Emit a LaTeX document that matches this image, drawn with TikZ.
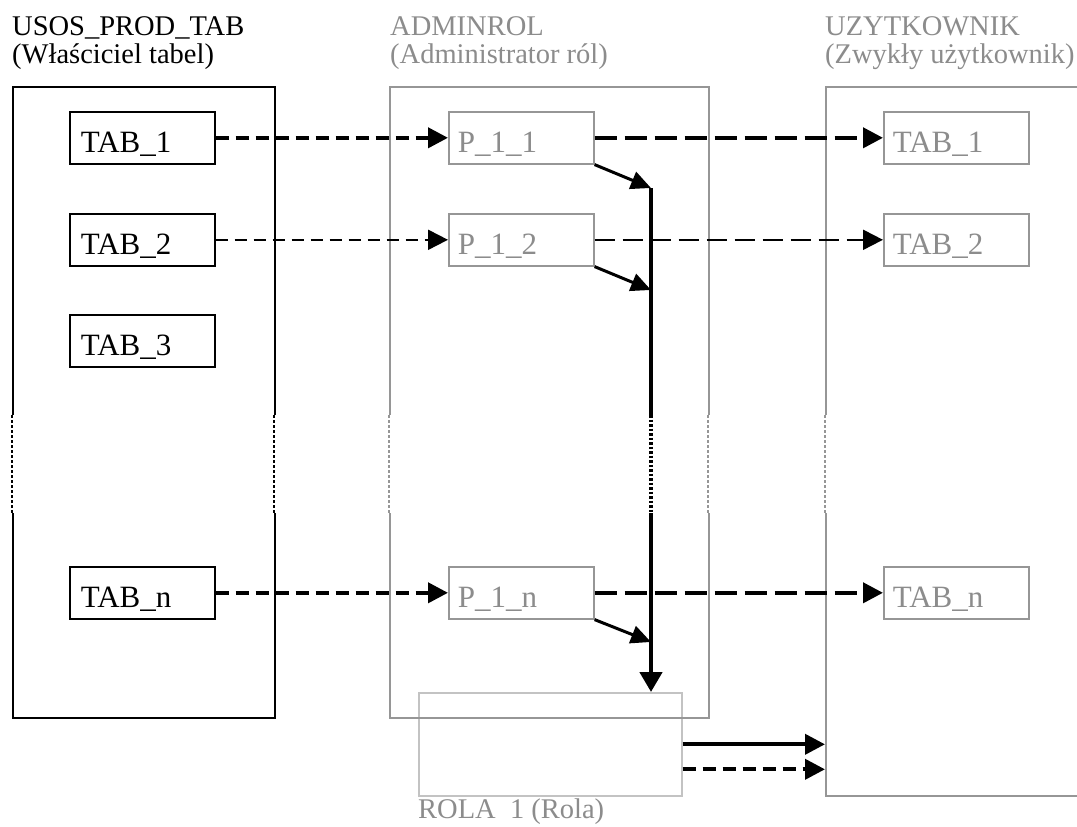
\documentclass[tikz,border=0pt]{standalone}
\usepackage{fontspec}
\setmainfont{Liberation Serif}
\usetikzlibrary{arrows.meta}
\definecolor{boxgray}{RGB}{150,150,150}
\definecolor{txtgray}{RGB}{140,140,140}
\definecolor{rolagray}{RGB}{195,195,195}
\begin{document}
\begin{tikzpicture}[x=1pt,y=-1pt,
  hdr/.style={inner sep=0pt, anchor=base west, font=\fontsize{28.5}{26}\selectfont},
  ghdr/.style={hdr, text=txtgray},
  container/.style={draw=black, line width=1.6pt, inner sep=0pt, anchor=north west},
  gcontainer/.style={container, draw=boxgray},
  tabbox/.style={draw=black, line width=1.6pt, minimum width=145pt, minimum height=52pt,
    inner xsep=11pt, inner ysep=0pt, text width=123pt, align=left,
    text height=30pt, text depth=0pt, anchor=north west, font=\fontsize{31}{31}\selectfont},
  graybox/.style={tabbox, draw=boxgray, text=txtgray, inner xsep=9pt, text width=127pt},
  tipA/.style={-{Triangle[length=20pt,width=20pt]}},
  thickdash/.style={tipA, line width=4pt, dash pattern=on 13pt off 7pt},
  thicklong/.style={tipA, line width=4pt, dash pattern=on 22pt off 8pt},
  thindash/.style={tipA, line width=2pt, dash pattern=on 12pt off 7pt},
  thinlong/.style={tipA, line width=2pt, dash pattern=on 20pt off 8pt},
  diag/.style={-{Triangle[length=20pt,width=18pt]}, line width=3pt},
  vert/.style={-{Triangle[length=20pt,width=22pt]}, line width=4.5pt},
  solidarr/.style={tipA, line width=4pt},
  dotline/.style={line width=2.4pt, dash pattern=on 3pt off 2pt},
]
\useasboundingbox (0,0) rectangle (1077,827);
\fill[white] (0,0) rectangle (1077,827);

% headers
\node[hdr] (h1a) at (12,35) {USOS\_PROD\_TAB};
\node[hdr] (h1b) at (12,63) {(Właściciel tabel)};
\node[ghdr] (h2a) at (390,35) {ADMINROL};
\node[ghdr] (h2b) at (390,63) {(Administrator ról)};
\node[ghdr] (h3a) at (825,35) {UZYTKOWNIK};
\node[ghdr] (h3b) at (825,63) {(Zwykły użytkownik)};

% containers
\node[container, minimum width=262pt, minimum height=631pt] (usos) at (12,86) {};
\node[draw=rolagray, line width=1.6pt, inner sep=0pt, anchor=north west,
      minimum width=263pt, minimum height=103pt] (rola) at (418,692) {};
\node[gcontainer, minimum width=319pt, minimum height=631pt] (admin) at (389,86) {};
\node[gcontainer, minimum width=300pt, minimum height=709pt] (uz) at (825,86) {};
\node[ghdr, text=txtgray] (rolalbl) at (418,818) {ROLA\ \ 1 (Rola)};

% left tables
\node[tabbox] (t1) at (69,111) {TAB\_1};
\node[tabbox] (t2) at (69,213) {TAB\_2};
\node[tabbox] (t3) at (69,314) {TAB\_3};
\node[tabbox] (tn) at (69,566) {TAB\_n};

% privileges
\node[graybox] (p1) at (448,111) {P\_1\_1};
\node[graybox] (p2) at (448,213) {P\_1\_2};
\node[graybox] (pn) at (448,566) {P\_1\_n};

% user tables
\node[graybox] (u1) at (883,111) {TAB\_1};
\node[graybox] (u2) at (883,213) {TAB\_2};
\node[graybox] (un) at (883,566) {TAB\_n};

% grant arrows
\draw[thickdash] (t1.east) -- (p1.west);
\draw[thindash] (t2.east) -- (p2.west);
\draw[thickdash] (tn.east) -- (pn.west);

\draw[thicklong] (p1.east) -- (u1.west);
\draw[thinlong] (p2.east) -- (u2.west);
\draw[thicklong] (pn.east) -- (un.west);

% privileges into role
\coordinate (v1) at (651,188);
\coordinate (v2) at (651,290);
\coordinate (vn) at (651,642);
\draw[vert] (v1) -- (v1 |- rola.north);
\draw[diag] (p1.south east) -- (v1);
\draw[diag] (p2.south east) -- (v2);
\draw[diag] (pn.south east) -- (vn);

% role to user
\draw[solidarr] (rola.east) -- (rola.east -| uz.west);
\coordinate (r2) at ([yshift=-25pt]rola.east);
\draw[thickdash] (r2) -- (r2 -| uz.west);

% omitted section
\fill[white] (0,415) rectangle (1077,513);
\draw[dotline, black] (12,415) -- (12,513);
\draw[dotline, black] (274,415) -- (274,513);
\draw[dotline, boxgray] (389,415) -- (389,513);
\draw[dotline, boxgray] (708,415) -- (708,513);
\draw[dotline, boxgray] (825,415) -- (825,513);
\draw[line width=4.5pt, dash pattern=on 2.5pt off 2pt] (651,415) -- (651,513);
\end{tikzpicture}
\end{document}
